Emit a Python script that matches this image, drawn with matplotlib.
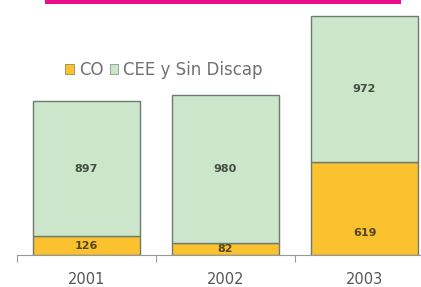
import matplotlib
matplotlib.use("Agg")
import matplotlib.pyplot as plt
from matplotlib.patches import Rectangle, Patch

years = ["2001", "2002", "2003"]
co = [126, 82, 619]
cee = [897, 980, 972]
series_names = ["CO", "CEE y Sin Discap"]

c_co = "#F9C22E"
c_cee = "#CCE6CC"
edge = "#6E7A6E"

fig = plt.figure(figsize=(4.21, 2.87), dpi=100)
W, H = 421, 287
ax_left = 17 / W
ax_bottom = 1 - 255 / H
ax_w = (421 - 17) / W
ax_h = 255 / H
ax = fig.add_axes([ax_left, ax_bottom, ax_w, ax_h])

x = list(range(len(years)))
bw = 0.77
ax.bar(x, co, width=bw, color=c_co, edgecolor=edge, linewidth=1.0)
ax.bar(x, cee, width=bw, bottom=co, color=c_cee, edgecolor=edge, linewidth=1.0)

for i in x:
    ax.text(i, min(co[i] / 2, 146), str(co[i]), ha="center", va="center",
            fontsize=8, fontweight="bold", color="#554422")
    ax.text(i, co[i] + cee[i] / 2, str(cee[i]), ha="center", va="center",
            fontsize=8, fontweight="bold", color="#3F4F3F")

ax.set_xlim(-0.5, -0.5 + (421 - 17) / 139)
ax.set_ylim(0, 255 / 0.1505)
for s in ["top", "right", "left"]:
    ax.spines[s].set_visible(False)
ax.spines["bottom"].set_color("#999999")
ax.spines["bottom"].set_linewidth(0.8)
ax.set_yticks([])
ax.set_xticks([-0.5, 0.5, 1.5])
ax.set_xticklabels([])
ax.tick_params(axis="x", direction="out", length=5, color="#999999", width=0.8)
for i, y in enumerate(years):
    ax.text(i, -24 / 0.1505, y, ha="center", va="center", fontsize=10.5, color="#555555")

handles = [Patch(facecolor=c_co, edgecolor="#9A8A50", linewidth=0.6),
           Patch(facecolor=c_cee, edgecolor="#8A9A8A", linewidth=0.6)]
fig.legend(handles, series_names, loc="center left", bbox_to_anchor=(57 / W, 1 - 70 / H),
           frameon=False, fontsize=12, handlelength=0.5, handleheight=0.5,
           handletextpad=0.3, columnspacing=0.4, ncol=2, labelcolor="#707070",
           borderpad=0)

fig.patches.append(Rectangle((45 / W, 1 - 4 / H), 356 / W, 4 / H,
                             transform=fig.transFigure, facecolor="#EC0C8C",
                             edgecolor="none"))

fig.savefig("out.png", dpi=100)
